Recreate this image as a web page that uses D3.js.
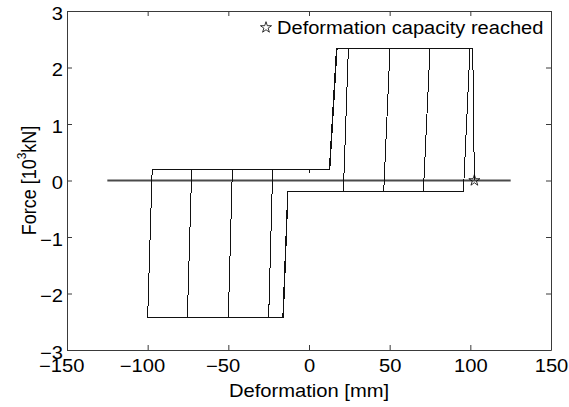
<!DOCTYPE html>
<html lang="en">
<head>
    <meta charset="UTF-8">
    <title>Force - deformation hysteresis</title>
    <script src="https://d3js.org/d3.v7.min.js"></script>
    <style>
        body { margin: 0; background: #fff; }
        svg text { font-family: "Liberation Sans", Arial, Helvetica, sans-serif; fill: #000; }
    </style>
</head>
<body>
    <svg width="569" height="407"></svg>

    <script>
        // tick values
        const xTicks = [-150, -100, -50, 0, 50, 100, 150];
        const yTicks = [-3, -2, -1, 0, 1, 2, 3];

        // hysteresis path, deformation [mm] / force [10^3 kN]
        const defo = [0, 0, 12.6, 17.0, 24.4, 21.3, -13.0, -15.9, -25.0, -22.5,
            12.6, 17.1, 50.2, 46.3, -13.0, -16.0, -50.0, -47.5,
            12.7, 17.2, 75.0, 70.9, -13.1, -16.1, -75.4, -72.7,
            12.8, 17.3, 99.8, 95.7, -13.2, -16.2, -100.0, -97.2,
            12.9, 17.4, 101.5, 102.5];
        const force = [0.13, 0.2, 0.2, 2.33, 2.33, -0.2, -0.2, -2.42, -2.42, 0.2,
            0.2, 2.33, 2.33, -0.2, -0.2, -2.42, -2.42, 0.2,
            0.2, 2.33, 2.33, -0.2, -0.2, -2.42, -2.42, 0.2,
            0.2, 2.33, 2.33, -0.2, -0.2, -2.42, -2.42, 0.2,
            0.2, 2.33, 2.33, 0.0];

        // zero line
        const zeroX = [-125, 125];
        const zeroY = [0, 0];

        // deformation capacity reached
        const capX = [102.5];
        const capY = [0];

        const legendText = "Deformation capacity reached";

        const svg = d3.select("svg");
        const margin = { top: 11, right: 18, bottom: 57, left: 67 };
        const W = 569, H = 407;
        const sx = 1.14; // glyphs of the reference are wider than tall

        const x = d3.scaleLinear().domain([-150, 150]).range([margin.left, W - margin.right]);
        const y = d3.scaleLinear().domain([-3, 3]).range([H - margin.bottom, margin.top]);

        const fmt = d => d < 0 ? "\u2212" + Math.abs(d) : String(d);

        // axes, matlab style: ticks inward, box all round
        const axisColor = "#3a3a3a";

        function styleAxis(g) {
            g.select(".domain").attr("stroke", axisColor).attr("stroke-width", 1);
            g.selectAll(".tick line").attr("stroke", axisColor);
        }

        svg.append("g")
            .attr("transform", `translate(0,${y(-3)})`)
            .call(d3.axisBottom(x).tickValues(xTicks).tickSize(-5).tickSizeOuter(0).tickFormat(fmt))
            .call(styleAxis)
            .call(g => g.selectAll(".tick text")
                .attr("font-size", 17.7)
                .attr("y", 9)
                .attr("dy", "0.71em")
                .attr("x", d => d < 0 ? -5 : 0)
                .attr("transform", `scale(${sx},1)`));

        svg.append("g")
            .attr("transform", `translate(0,${y(3)})`)
            .call(d3.axisTop(x).tickValues(xTicks).tickSize(-5).tickSizeOuter(0).tickFormat(""))
            .call(styleAxis);

        svg.append("g")
            .attr("transform", `translate(${x(-150)},0)`)
            .call(d3.axisLeft(y).tickValues(yTicks).tickSize(-5).tickSizeOuter(0).tickFormat(fmt))
            .call(styleAxis)
            .call(g => g.selectAll(".tick text")
                .attr("font-size", 17.7)
                .attr("x", -4 / sx)
                .attr("dy", "0.47em")
                .attr("transform", `scale(${sx},1)`));

        svg.append("g")
            .attr("transform", `translate(${x(150)},0)`)
            .call(d3.axisRight(y).tickValues(yTicks).tickSize(-5).tickSizeOuter(0).tickFormat(""))
            .call(styleAxis);

        // zero line
        const line = d3.line().x(d => x(d[0])).y(d => y(d[1]));

        svg.append("path")
            .datum(d3.zip(zeroX, zeroY))
            .attr("d", line)
            .attr("fill", "none")
            .attr("stroke", "#4a4a4a")
            .attr("stroke-width", 2);

        // hysteresis
        svg.append("path")
            .datum(d3.zip(defo, force))
            .attr("d", line)
            .attr("fill", "none")
            .attr("stroke", "#111")
            .attr("stroke-width", 1)
            .attr("shape-rendering", "crispEdges");

        // star marker
        const star = d3.symbol().type(d3.symbolStar).size(38);

        svg.selectAll(".cap")
            .data(d3.zip(capX, capY))
            .join("path")
            .attr("class", "cap")
            .attr("d", star)
            .attr("transform", d => `translate(${x(d[0])},${y(d[1])})`)
            .attr("fill", "none")
            .attr("stroke", "#000")
            .attr("stroke-width", 0.8);

        // legend
        svg.append("path")
            .attr("d", star)
            .attr("transform", "translate(266,27.5)")
            .attr("fill", "none")
            .attr("stroke", "#000")
            .attr("stroke-width", 0.8);

        svg.append("text")
            .attr("transform", `translate(277,34) scale(${sx},1)`)
            .attr("font-size", 17.6)
            .text(legendText);

        // axis labels
        svg.append("text")
            .attr("transform", `translate(${(x(-150) + x(150)) / 2},397) scale(${sx},1)`)
            .attr("text-anchor", "middle")
            .attr("font-size", 17.7)
            .text("Deformation [mm]");

        const yl = svg.append("text")
            .attr("transform", `translate(36,${(y(3) + y(-3)) / 2}) scale(${sx},1) rotate(-90)`)
            .attr("text-anchor", "middle")
            .attr("font-size", 18);
        yl.append("tspan").text("Force [10");
        yl.append("tspan").attr("font-size", 12).attr("dy", "-0.75em").text("3");
        yl.append("tspan").attr("dy", "0.5em").text("kN]");
    </script>
</body>
</html>
